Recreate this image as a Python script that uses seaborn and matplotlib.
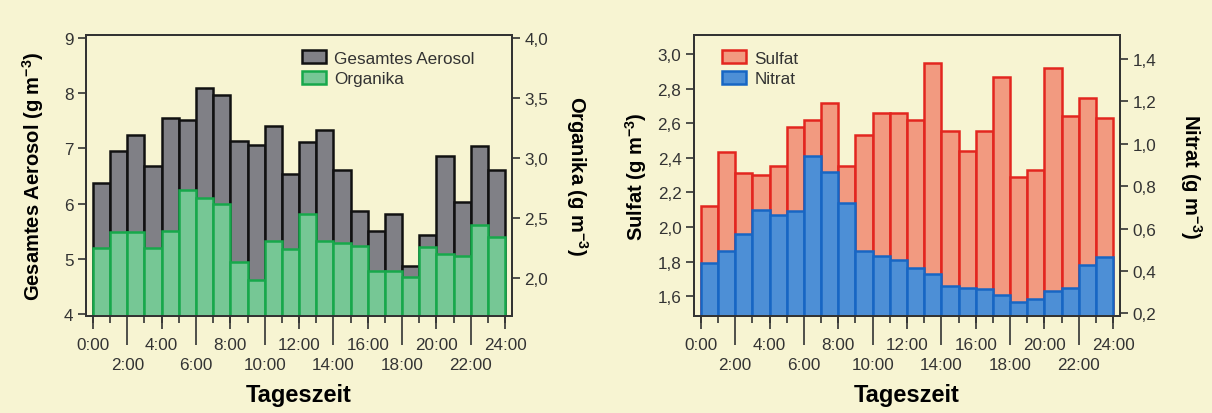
import seaborn as sns
import matplotlib.pyplot as plt
import numpy as np
from matplotlib.patches import Patch

# hourly means, bar i covers i:00 - (i+1):00
stunden = np.arange(24) + 0.5

gesamt = [6.37, 6.95, 7.24, 6.68, 7.55, 7.51, 8.09, 7.96, 7.13, 7.07, 7.41, 6.54,
          7.11, 7.34, 6.60, 5.86, 5.51, 5.82, 4.87, 5.43, 6.87, 6.03, 7.05, 6.60]
organika = [2.25, 2.38, 2.38, 2.25, 2.39, 2.73, 2.67, 2.62, 2.13, 1.98, 2.31, 2.24,
            2.53, 2.31, 2.29, 2.27, 2.06, 2.06, 2.01, 2.26, 2.20, 2.18, 2.44, 2.34]
sulfat = [2.12, 2.435, 2.31, 2.30, 2.355, 2.58, 2.62, 2.72, 2.355, 2.53, 2.66, 2.66,
          2.62, 2.946, 2.557, 2.44, 2.553, 2.865, 2.287, 2.33, 2.92, 2.64, 2.745, 2.63]
nitrat = [0.438, 0.496, 0.576, 0.689, 0.664, 0.681, 0.944, 0.868, 0.721, 0.493, 0.469, 0.454,
          0.414, 0.386, 0.328, 0.320, 0.315, 0.288, 0.252, 0.268, 0.307, 0.320, 0.430, 0.467]

reihe1 = [0, 4, 8, 12, 16, 20, 24]
reihe2 = [2, 6, 10, 14, 18, 22]
gesamt_ticks = [4, 5, 6, 7, 8, 9]
organika_ticks = [2.0, 2.5, 3.0, 3.5, 4.0]
sulfat_ticks = [1.6, 1.8, 2.0, 2.2, 2.4, 2.6, 2.8, 3.0]
nitrat_ticks = [0.2, 0.4, 0.6, 0.8, 1.0, 1.2, 1.4]

bg = '#f7f4d2'
ink = '#333333'
plt.rcParams['font.family'] = ['Liberation Sans', 'DejaVu Sans']
plt.rcParams['axes.edgecolor'] = ink
plt.rcParams['text.color'] = ink
plt.rcParams['xtick.color'] = ink
plt.rcParams['ytick.color'] = ink
plt.rcParams['mathtext.default'] = 'regular'

fig = plt.figure(figsize=(12.12, 4.14), dpi=100, facecolor=bg)
fs = 12.3


def komma(v, nd):
    return f'{v:.{nd}f}'.replace('.', ',')


def panel(rect, links, rechts, c_links, c_rechts, lim_l, lim_r, t_l, t_r, nd_l, nd_r,
          lab_l, lab_r, leg_x, pad_l, pad_r):
    ax = fig.add_axes(rect)
    ax.set_facecolor(bg)
    ax2 = ax.twinx()
    sns.barplot(x=stunden, y=links, native_scale=True, width=1, color=c_links[0],
                edgecolor=c_links[1], linewidth=1.8, saturation=1, ax=ax)
    sns.barplot(x=stunden, y=rechts, native_scale=True, width=1, color=c_rechts[0],
                edgecolor=c_rechts[1], linewidth=1.8, saturation=1, ax=ax2)
    for a in (ax, ax2):
        a.set_xlim(-0.4, 24.4)
        for s in a.spines.values():
            s.set_linewidth(1.4)
    ax.set_ylim(*lim_l)
    ax2.set_ylim(*lim_r)
    ax.set_yticks(t_l, [komma(v, nd_l) for v in t_l], fontsize=fs)
    ax2.set_yticks(t_r, [komma(v, nd_r) for v in t_r], fontsize=fs)
    ax.tick_params(axis='y', length=6, width=1.2, pad=3)
    ax2.tick_params(axis='y', length=6, width=1.2, pad=3)

    # x axis: long ticks for second row, short ticks for first row
    ax.set_xticks(reihe2, [f'{h}:00' for h in reihe2], fontsize=fs)
    ax.set_xticks(np.arange(25), minor=True)
    ax.tick_params(axis='x', which='major', length=21, width=1.2, pad=9)
    ax.tick_params(axis='x', which='minor', length=5, width=1.2)
    sec = ax.secondary_xaxis('bottom')
    sec.set_xticks(reihe1, [f'{h}:00' for h in reihe1], fontsize=fs)
    sec.xaxis.set_minor_locator(plt.NullLocator())
    sec.tick_params(axis='x', length=9, width=1.2, pad=6, colors=ink)
    sec.spines['bottom'].set_visible(False)
    ax.set_xlabel('Tageszeit', fontsize=17, fontweight='bold', labelpad=8)

    ax.set_ylabel(lab_l[0] + ' (g m$^{-3}$)', fontsize=14.5, fontweight='bold', labelpad=pad_l)
    ax2.set_ylabel(lab_r[0] + ' (g m$^{-3}$)', fontsize=14.5, fontweight='bold',
                   rotation=270, labelpad=pad_r)

    handles = [Patch(facecolor=c_links[0], edgecolor=c_links[1], linewidth=1.8, label=lab_l[1]),
               Patch(facecolor=c_rechts[0], edgecolor=c_rechts[1], linewidth=1.8, label=lab_r[1])]
    ax2.legend(handles=handles, loc='upper left', bbox_to_anchor=(leg_x, 1.0), frameon=False,
               fontsize=fs, handlelength=1.4, handleheight=0.8, handletextpad=0.5,
               labelspacing=0.3, borderaxespad=0.5)
    return ax, ax2


panel([0.071, 0.235, 0.3515, 0.678], gesamt, organika,
      ('#808086', '#111111'), ('#76c795', '#17a84b'),
      (3.969, 9.054), (1.686, 4.025), gesamt_ticks, organika_ticks, 0, 1,
      ('Gesamtes Aerosol', 'Gesamtes Aerosol'), ('Organika', 'Organika'), 0.47, 13, 30)

panel([0.5726, 0.235, 0.3515, 0.678], sulfat, nitrat,
      ('#f29a80', '#e3261f'), ('#4d8fd6', '#1766c4'),
      (1.488, 3.11), (0.189, 1.513), sulfat_ticks, nitrat_ticks, 1, 1,
      ('Sulfat', 'Sulfat'), ('Nitrat', 'Nitrat'), 0.03, 6, 34)

plt.savefig('out.png', dpi=100, facecolor=bg)
